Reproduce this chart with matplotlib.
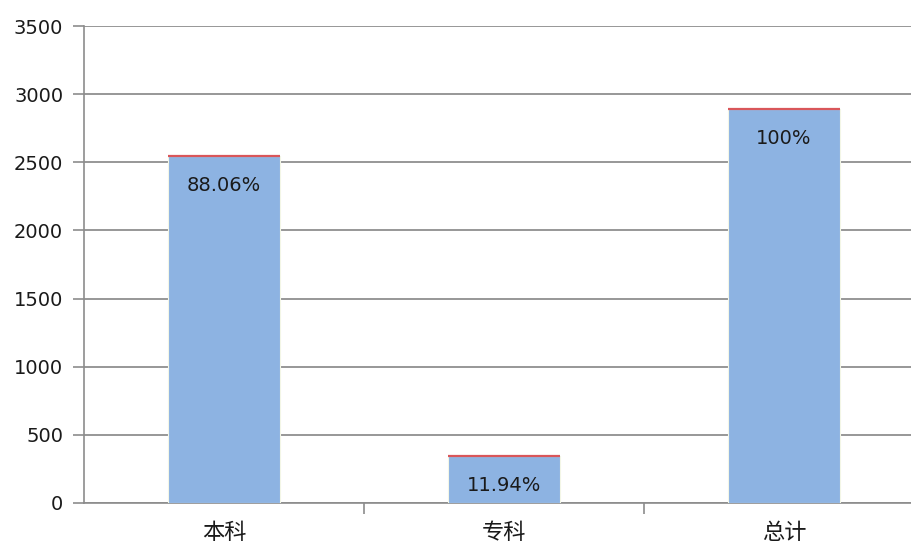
import matplotlib.pyplot as plt
import numpy as np

plt.rcParams['font.family'] = ['Noto Sans CJK SC', 'DejaVu Sans']

categories = ['本科', '专科', '总计']
counts = [2547, 345, 2892]
labels = ['88.06%', '11.94%', '100%']

fig = plt.figure(figsize=(9.12, 5.47), dpi=100)
# axes run past the right edge of the figure, as in the original
ax = fig.add_axes([84 / 912, 44 / 547, 840 / 912, 477 / 547])

x = np.arange(len(categories))
bars = ax.bar(x, counts, width=0.4, color='#8db3e2', edgecolor='#f3f6e6',
              linewidth=0.8, zorder=3)
# thin red cap on top of each bar
ax.hlines(counts, x - 0.2, x + 0.2, color='#d9565a', linewidth=1.6, zorder=4)

for xi, c, lab in zip(x, counts, labels):
    ax.annotate(lab, (xi, c), xytext=(0, -30), textcoords='offset pixels',
                ha='center', va='center', fontsize=14, color='#1a1a1a',
                family='DejaVu Sans', zorder=5)

ax.set_xlim(-0.5, 2.5)
ax.set_ylim(0, 3500)
ax.set_yticks(np.arange(0, 3501, 500))
ax.yaxis.grid(True, color='#858585', linewidth=1.2, zorder=0)
ax.set_axisbelow(True)

ax.set_xticks([0.5, 1.5], minor=False)
ax.set_xticklabels([])
ax.set_xticks(x, minor=True)
ax.set_xticklabels(categories, minor=True, fontsize=16, color='#1a1a1a')
ax.tick_params(axis='x', which='major', length=8, width=1.2, color='#8c8c8c', direction='out')
ax.tick_params(axis='x', which='minor', length=0, pad=13)
ax.tick_params(axis='y', length=8, width=1.2, color='#8c8c8c', labelsize=14,
               labelcolor='#1a1a1a', pad=7)
for lab in ax.get_yticklabels():
    lab.set_family('DejaVu Sans')

for s in ['top', 'right']:
    ax.spines[s].set_visible(False)
ax.spines['left'].set_color('#8c8c8c')
ax.spines['left'].set_linewidth(1.2)
ax.spines['bottom'].set_color('#8c8c8c')
ax.spines['bottom'].set_linewidth(1.2)

fig.savefig('out.png', dpi=100)
